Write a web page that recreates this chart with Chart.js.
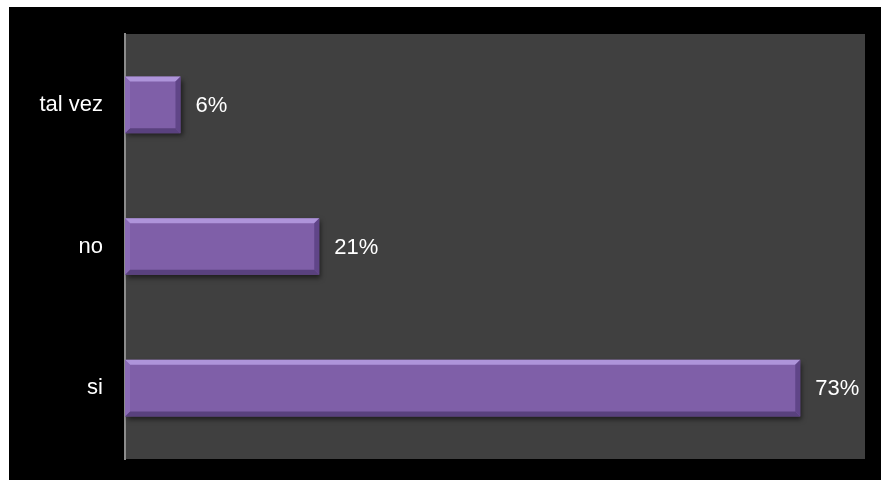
<!DOCTYPE html>
<html lang="es">
<head>
    <meta charset="UTF-8">
    <title>Respuestas</title>
    <script src="https://cdn.jsdelivr.net/npm/chart.js"></script>
    <style>
        html, body {
            margin: 0;
            padding: 0;
            background: #ffffff;
            width: 881px;
            height: 480px;
            overflow: hidden;
        }

        .marco {
            position: absolute;
            left: 9px;
            top: 7px;
            width: 872px;
            height: 473px;
            background: #000000;
        }
    </style>
</head>
<body>
    <div class="marco">
        <canvas id="grafico" width="872" height="473"></canvas>
    </div>

    <script>
        // datos
        const categorias = ['tal vez', 'no', 'si'];
        const porcentajes = [0.06, 0.21, 0.73];
        const ejeMax = 0.8;

        const fuente = '"Liberation Sans", Arial, sans-serif';

        // fondo gris del area de trazado
        const fondoPlot = {
            id: 'fondoPlot',
            beforeDraw(chart) {
                const { ctx, chartArea: a } = chart;
                ctx.save();
                ctx.fillStyle = '#404040';
                ctx.fillRect(a.left, a.top, a.right - a.left, a.bottom - a.top);
                ctx.restore();
            },
            beforeDatasetsDraw(chart) {
                const ctx = chart.ctx;
                ctx.save();
                ctx.shadowColor = 'rgba(0,0,0,0.55)';
                ctx.shadowBlur = 5;
                ctx.shadowOffsetX = 2;
                ctx.shadowOffsetY = 3;
            },
            afterDatasetsDraw(chart) {
                chart.ctx.restore();
            }
        };

        // bisel de las barras + etiquetas de valor
        const barrasBisel = {
            id: 'barrasBisel',
            afterDatasetsDraw(chart) {
                const ctx = chart.ctx;
                const meta = chart.getDatasetMeta(0);
                ctx.save();
                meta.data.forEach((bar, i) => {
                    const x0 = bar.base, x1 = bar.x;
                    const y0 = bar.y - bar.height / 2, y1 = bar.y + bar.height / 2;
                    const b = 5;
                    // borde superior claro
                    ctx.fillStyle = 'rgba(190,165,235,0.75)';
                    ctx.beginPath();
                    ctx.moveTo(x0, y0); ctx.lineTo(x1, y0); ctx.lineTo(x1 - b, y0 + b); ctx.lineTo(x0 + b, y0 + b);
                    ctx.closePath(); ctx.fill();
                    // borde inferior oscuro
                    ctx.fillStyle = 'rgba(80,58,115,0.8)';
                    ctx.beginPath();
                    ctx.moveTo(x0, y1); ctx.lineTo(x1, y1); ctx.lineTo(x1 - b, y1 - b); ctx.lineTo(x0 + b, y1 - b);
                    ctx.closePath(); ctx.fill();
                    // borde derecho
                    ctx.fillStyle = 'rgba(90,65,130,0.85)';
                    ctx.beginPath();
                    ctx.moveTo(x1, y0); ctx.lineTo(x1, y1); ctx.lineTo(x1 - b, y1 - b); ctx.lineTo(x1 - b, y0 + b);
                    ctx.closePath(); ctx.fill();
                    // borde izquierdo
                    ctx.fillStyle = 'rgba(150,120,195,0.5)';
                    ctx.beginPath();
                    ctx.moveTo(x0, y0); ctx.lineTo(x0, y1); ctx.lineTo(x0 + b, y1 - b); ctx.lineTo(x0 + b, y0 + b);
                    ctx.closePath(); ctx.fill();

                    // etiqueta
                    ctx.fillStyle = '#ffffff';
                    ctx.font = '22px ' + fuente;
                    ctx.textAlign = 'left';
                    ctx.textBaseline = 'middle';
                    ctx.fillText(Math.round(porcentajes[i] * 100) + '%', x1 + 15, bar.y + 1);
                });
                ctx.restore();
            }
        };

        const ctx = document.getElementById('grafico').getContext('2d');

        new Chart(ctx, {
            type: 'bar',
            data: {
                labels: categorias,
                datasets: [{
                    data: porcentajes,
                    backgroundColor: '#7f5fa8',
                    borderWidth: 0,
                    barPercentage: 0.4,
                    categoryPercentage: 1
                }]
            },
            options: {
                indexAxis: 'y',
                responsive: false,
                animation: false,
                layout: { padding: { left: 0, right: 16, top: 27, bottom: 21 } },
                plugins: {
                    legend: { display: false },
                    tooltip: { enabled: false }
                },
                scales: {
                    x: { display: false, min: 0, max: ejeMax },
                    y: {
                        afterFit(scale) {
                            scale.width = 116;
                            scale.paddingTop = 0;
                            scale.paddingBottom = 0;
                        },
                        grid: { display: false, drawTicks: false },
                        border: { display: true, color: '#8c8c8c', width: 2 },
                        ticks: {
                            color: '#ffffff',
                            padding: 22,
                            font: { family: fuente, size: 22 }
                        }
                    }
                }
            },
            plugins: [fondoPlot, barrasBisel]
        });
    </script>
</body>
</html>
